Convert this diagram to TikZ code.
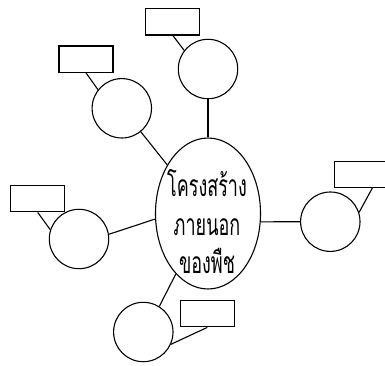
\documentclass[tikz,border=0pt]{standalone}
\usepackage{fontspec}
\usetikzlibrary{shapes.geometric}
\newfontfamily\thaifont[Script=Thai,FakeStretch=0.6]{Loma}
\begin{document}
\begin{tikzpicture}[x=1pt,y=-1pt,line width=1.1pt,
  bub/.style={draw,circle,minimum size=59.4pt,inner sep=0pt},
  lab/.style={draw,rectangle,minimum width=54pt,minimum height=26.3pt,inner sep=0pt},
  core/.style={draw,ellipse,minimum width=105pt,minimum height=151pt,inner sep=0pt}]
\useasboundingbox (0,0) rectangle (385,366);
\node[core] (e) at (208,213.5) {};
\node[align=center,font=\thaifont\fontsize{30}{38.5}\selectfont] (txt) at (207,222) {โครงสร้าง\\ภายนอก\\ของพืช};
\node[bub] (t) at (208,69) {};
\node[bub] (ul) at (121.8,108.3) {};
\node[bub] (l) at (79,239) {};
\node[bub] (r) at (330.3,221.7) {};
\node[bub] (b) at (143.3,332) {};
\node[lab] (tr) at (172.85,21.85) {};
\node[lab] (ulr) at (86,59.15) {};
\node[lab] (lr) at (37.7,198.65) {};
\node[lab] (rr) at (361.3,174.4) {};
\node[lab] (br) at (207.3,313.7) {};
\draw (t.south) -- (e.north);
\draw (ul.309) -- (e.130);
\draw (l.9) -- (e.186);
\draw (r.west) -- (e.351);
\draw (b.58) -- (e.242);
\draw (tr.south) -- (t.142);
\draw (ulr.south) -- (ul.142);
\draw (lr.south) -- (l.162);
\draw ([xshift=11pt]rr.south) -- (r.18);
\draw (br.south) -- (b.336);
\end{tikzpicture}
\end{document}
